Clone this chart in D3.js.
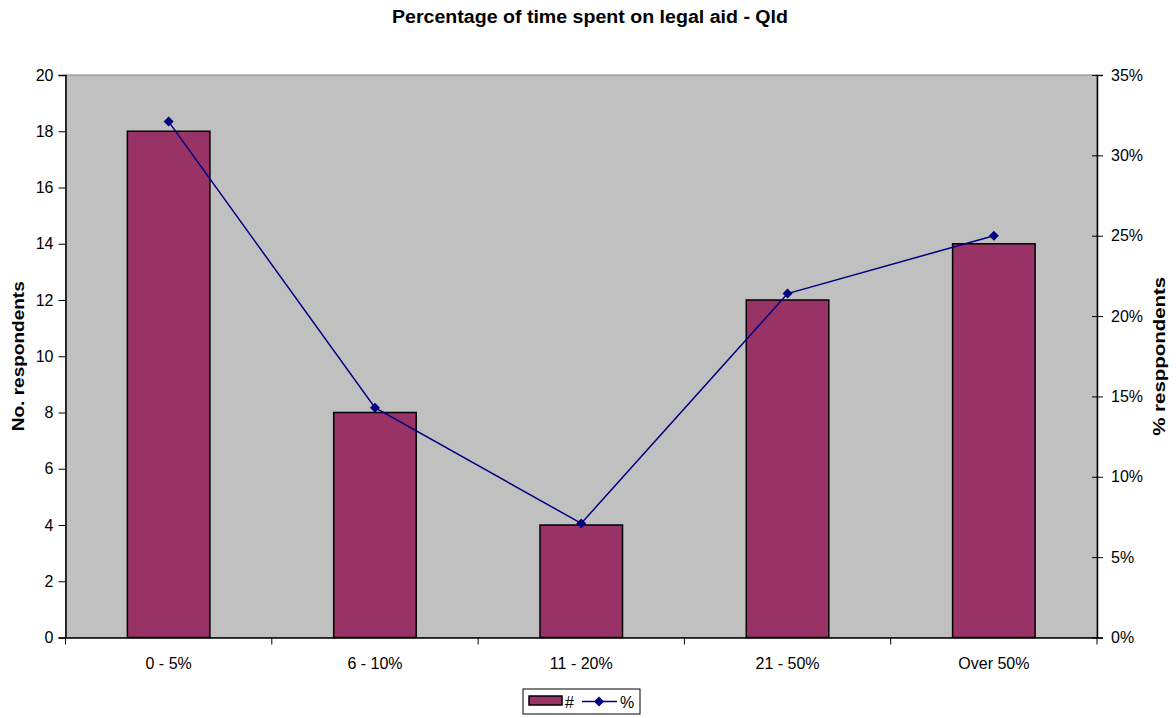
<!DOCTYPE html>
<html><head><meta charset="utf-8">
<script src="https://cdn.jsdelivr.net/npm/d3@7"></script>
<style>body{margin:0;background:#fff;} text{font-family:"Liberation Sans",Arial,sans-serif;}</style>
</head><body><svg id="c" width="1176" height="718"></svg>
<script>
const categories = ["0 - 5%", "6 - 10%", "11 - 20%", "21 - 50%", "Over 50%"];
const counts = [18, 8, 4, 12, 14];
const percents = [0.321, 0.143, 0.071, 0.214, 0.25];
const leftTicks = [0,2,4,6,8,10,12,14,16,18,20];
const rightTicks = [0,0.05,0.10,0.15,0.20,0.25,0.30,0.35];

const svg = d3.select("#c");
const L = 65.5, R = 1097, T = 75, B = 637.5;
const FONT = "Liberation Sans, Arial, sans-serif";
const x = d3.scaleBand().domain(categories).range([L, R]).paddingInner(0).paddingOuter(0);
const yL = d3.scaleLinear().domain([0,20]).range([B, T]);
const yR = d3.scaleLinear().domain([0,0.35]).range([B, T]);

svg.append("rect").attr("x",L).attr("y",T).attr("width",R-L).attr("height",B-T)
  .attr("fill","#c0c0c0").attr("stroke","#808080").attr("stroke-width",1);

const bw = x.bandwidth()*0.4;
svg.selectAll(".bar").data(counts).enter().append("rect")
  .attr("x",(d,i)=>x(categories[i])+x.bandwidth()/2-bw/2)
  .attr("y",d=>yL(d)).attr("width",bw).attr("height",d=>B-yL(d))
  .attr("fill","#993366").attr("stroke","#000").attr("stroke-width",1.5);

// left axis
const gl = svg.append("g").attr("transform",`translate(${L},0)`)
  .call(d3.axisLeft(yL).tickValues(leftTicks).tickSize(7).tickPadding(5).tickFormat(d3.format("d")));
gl.select(".domain").attr("stroke","#000").attr("stroke-width",1.5);
gl.selectAll("text").attr("font-size",16).attr("fill","#000").style("font-family",FONT);

// right axis
const gr = svg.append("g").attr("transform",`translate(${R},0)`)
  .call(d3.axisRight(yR).tickValues(rightTicks).tickSize(6).tickPadding(8).tickFormat(d3.format(".0%")));
gr.select(".domain").attr("stroke","#000").attr("stroke-width",1.5);
gr.selectAll(".tick line").attr("x1",-5);
gr.selectAll("text").attr("font-size",16).attr("fill","#000").style("font-family",FONT);

// bottom axis
const gb = svg.append("g").attr("transform",`translate(0,${B})`)
  .call(d3.axisBottom(x).tickSize(0).tickPadding(20));
gb.select(".domain").attr("stroke","#000").attr("stroke-width",1.5);
gb.selectAll("text").attr("font-size",16).attr("fill","#000").style("font-family",FONT);
const bounds = categories.map(c=>x(c)).concat([R]);
gb.selectAll(".bt").data(bounds).enter().append("line").attr("class","bt")
  .attr("x1",d=>d).attr("x2",d=>d).attr("y1",0).attr("y2",7).attr("stroke","#000");

// line
const line = d3.line().x((d,i)=>x(categories[i])+x.bandwidth()/2).y(d=>yR(d));
svg.append("path").datum(percents).attr("d",line).attr("fill","none").attr("stroke","#000080").attr("stroke-width",1.5);
const diamond = d3.symbol().type(d3.symbolSquare).size(50);
svg.selectAll(".pt").data(percents).enter().append("path")
  .attr("d",diamond)
  .attr("transform",(d,i)=>`translate(${x(categories[i])+x.bandwidth()/2},${yR(d)}) rotate(45)`)
  .attr("fill","#000080");

// titles
svg.append("text").attr("x",590).attr("y",23).attr("text-anchor","middle")
  .attr("font-size",18).attr("font-weight","bold")
  .attr("textLength",396).attr("lengthAdjust","spacingAndGlyphs")
  .text("Percentage of time spent on legal aid - Qld");
svg.append("text").attr("transform",`translate(24,${(T+B)/2}) rotate(-90)`).attr("text-anchor","middle")
  .attr("font-size",16).attr("font-weight","bold")
  .attr("textLength",150).attr("lengthAdjust","spacingAndGlyphs").text("No. respondents");
svg.append("text").attr("transform",`translate(1165,${(T+B)/2}) rotate(-90)`).attr("text-anchor","middle")
  .attr("font-size",16).attr("font-weight","bold")
  .attr("textLength",159).attr("lengthAdjust","spacingAndGlyphs").text("% resppondents");

// legend
const lg = svg.append("g");
lg.append("rect").attr("x",523).attr("y",689).attr("width",117).attr("height",25).attr("fill","#fff").attr("stroke","#000");
lg.append("rect").attr("x",529).attr("y",696).attr("width",33).attr("height",9).attr("fill","#993366").attr("stroke","#000").attr("stroke-width",1.5);
lg.append("text").attr("x",565).attr("y",708).attr("font-size",16).text("#");
lg.append("line").attr("x1",582).attr("x2",617).attr("y1",701.5).attr("y2",701.5).attr("stroke","#000080").attr("stroke-width",1.5);
lg.append("path").attr("d",diamond).attr("transform","translate(599,701.5) rotate(45)").attr("fill","#000080");
lg.append("text").attr("x",620).attr("y",708).attr("font-size",16).text("%");
</script></body></html>
